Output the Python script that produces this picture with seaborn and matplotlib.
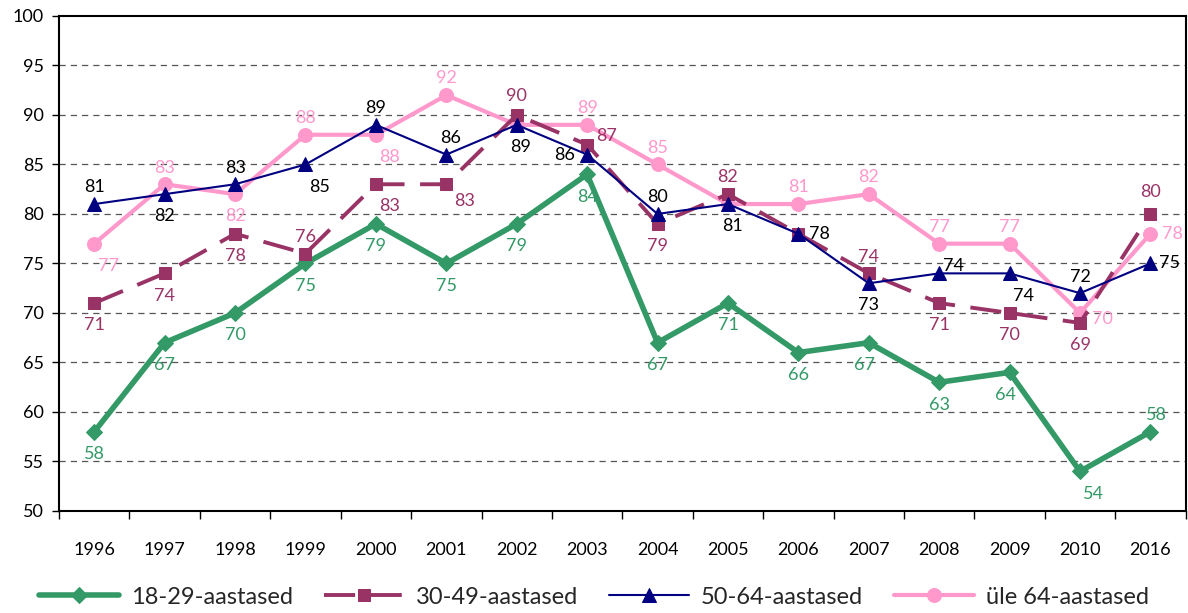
import matplotlib
matplotlib.use("Agg")
import matplotlib.pyplot as plt
import seaborn as sns
import pandas as pd
import numpy as np
from matplotlib.ticker import FixedLocator

years = ["1996", "1997", "1998", "1999", "2000", "2001", "2002", "2003",
         "2004", "2005", "2006", "2007", "2008", "2009", "2010", "2016"]
s1829 = [58, 67, 70, 75, 79, 75, 79, 84, 67, 71, 66, 67, 63, 64, 54, 58]
s3049 = [71, 74, 78, 76, 83, 83, 90, 87, 79, 82, 78, 74, 71, 70, 69, 80]
s5064 = [81, 82, 83, 85, 89, 86, 89, 86, 80, 81, 78, 73, 74, 74, 72, 75]
s64 = [77, 83, 82, 88, 88, 92, 89, 89, 85, 81, 81, 82, 77, 77, 70, 78]
names = ["18-29-aastased", "30-49-aastased", "50-64-aastased", "üle 64-aastased"]

sns.set_theme(style="white")
plt.rcParams['font.family'] = ['Lato', 'DejaVu Sans']

fig = plt.figure(figsize=(11.88, 6.13), dpi=100)
ax = fig.add_axes([0.0497, 0.1664, 0.9483, 0.8076])

x = np.arange(len(years))
series = [s1829, s3049, s5064, s64]
colors = ["#339966", "#993366", "#000080", "#FF99CC"]
lcolors = ["#339966", "#993366", "#000000", "#FF99CC"]
markers = ["D", "s", "^", "o"]
msizes = [8, 9, 10, 10]
lws = [4, 2.8, 1.5, 3]
styles = ["-", (0, (8, 4)), "-", "-"]
zorders = [3, 4, 5, 2]

for vals, name, c, m, ms, lw, ls, z in zip(series, names, colors, markers, msizes, lws, styles, zorders):
    df = pd.DataFrame({"x": x, "y": vals})
    sns.lineplot(data=df, x="x", y="y", ax=ax, color=c, marker=m, markersize=ms,
                 markeredgecolor=c, linewidth=lw, linestyle=ls, label=name, zorder=z)

# label offsets in points (dx, dy) per series; None = label hidden as in the reference
off1829 = [(0, -16), (0, -16), (0, -16), (0, -16), (0, -16), (0, -16), (0, -16), (0, -16),
           (0, -16), (0, -16), (0, -16), (-3, -16), (0, -16), (-3, -16), (10, -16), (4, 12)]
off3049 = [(0, -16), (0, -16), (0, -16), (0, 12), (10, -16), (13, -12), (0, 14), (14, 6),
           (0, -16), (0, 12), None, (0, 12), (0, -16), (0, -16), (0, -16), (0, 16)]
off5064 = [(0, 12), (0, -16), (0, 12), (10, -16), (0, 12), (3, 12), (3, -16), (-16, 0),
           (0, 12), (3, -16), (15, 0), (0, -16), (10, 5), (10, -16), (0, 12), (14, 0)]
off64 = [(10, -16), (0, 12), (0, -16), (0, 12), (10, -16), (0, 12), None, (0, 12),
         (0, 12), None, (0, 12), (0, 12), (0, 12), (0, 12), (16, -4), (16, 0)]
offs = [off1829, off3049, off5064, off64]
order = [3, 0, 1, 2]
for i in order:
    vals = series[i]
    for xi, v, off in zip(x, vals, offs[i]):
        if off is None:
            continue
        dx, dy = off
        ax.annotate(str(v), (xi, v), xytext=(dx, dy), textcoords="offset points",
                    ha="center", va="center", fontsize=13, color=lcolors[i], zorder=6)

ax.set_xlim(-0.5, len(years) - 0.5)
ax.set_ylim(50, 100)
ax.set_yticks(np.arange(50, 101, 5))
ax.set_xticks(x)
ax.set_xticklabels(years)
ax.xaxis.set_minor_locator(FixedLocator(np.arange(-0.5, len(years), 1)))
ax.tick_params(axis="x", which="major", length=0, pad=22, labelsize=13, colors="black")
ax.tick_params(axis="x", which="minor", length=6, width=1, bottom=True, direction="out", color="black")
ax.tick_params(axis="y", which="major", length=5, width=1, left=True, direction="out",
               labelsize=13, colors="black", pad=6)
ax.set_xlabel("")
ax.set_ylabel("")
for yv in range(55, 100, 5):
    ax.axhline(yv, color="#555555", linestyle=(0, (5, 4)), linewidth=0.9, zorder=0)
for sp in ax.spines.values():
    sp.set_color("black")
    sp.set_linewidth(1.5)

ax.get_legend().remove()
handles, labels = ax.get_legend_handles_labels()
fig.legend(handles, labels, loc="center", bbox_to_anchor=(0.5, 0.026), ncol=4,
           frameon=False, fontsize=17, handlelength=3.4, columnspacing=1.3, handletextpad=0.5)

fig.savefig("out.png", dpi=100)
